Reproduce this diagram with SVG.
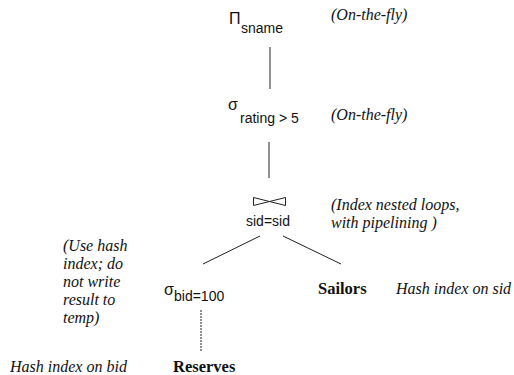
<svg xmlns="http://www.w3.org/2000/svg" width="514" height="375" viewBox="0 0 514 375">
<style>
.op{font-family:"Liberation Sans",Arial,sans-serif;font-size:14px;fill:#111}
.sym{font-family:"Liberation Sans","DejaVu Sans",sans-serif;font-size:16px;fill:#111}
.note{font-family:"Liberation Serif","Times New Roman","DejaVu Serif",serif;font-style:italic;font-size:16px;fill:#111}
.rel{font-family:"Liberation Serif","Times New Roman",serif;font-weight:bold;font-size:16.5px;fill:#111}
.edge{stroke:#222;stroke-width:1;fill:none}
.tie{stroke:#222;stroke-width:1;fill:none;stroke-linejoin:miter}
</style>
<rect width="514" height="375" fill="#fff"/>
<g id="connectors">
<line class="edge" x1="270" y1="47" x2="270" y2="89"/>
<line class="edge" x1="269" y1="142" x2="269" y2="178"/>
<line class="edge" x1="260" y1="236" x2="203" y2="264"/>
<line class="edge" x1="283" y1="236" x2="341" y2="264"/>
<line class="edge" x1="201" y1="310" x2="201" y2="351" stroke="#777" stroke-dasharray="2,1"/>
</g>
<g id="project">
<text class="sym" x="229" y="24" font-weight="300">Π</text>
<text class="op" x="241" y="33">sname</text>
<text class="note" x="331" y="20" font-size="16.5">(On-the-fly)</text>
</g>
<g id="select-rating">
<text class="sym" x="228" y="110">σ</text>
<text class="op" x="240" y="123">rating &gt; 5</text>
<text class="note" x="331" y="120" font-size="16.5">(On-the-fly)</text>
</g>
<g id="join">
<path class="tie" d="M253.5,197.5 L269.5,201.5 L253.5,205.5 Z M285.5,197.5 L269.5,201.5 L285.5,205.5 Z"/>
<text class="op" x="246" y="226">sid=sid</text>
<text class="note" x="331" y="210" font-size="16.5">(Index nested loops,</text>
<text class="note" x="331" y="228" font-size="16.5">with pipelining )</text>
</g>
<g id="select-bid">
<text class="sym" x="164" y="295">σ</text>
<text class="op" x="174" y="301">bid=100</text>
<text class="note" x="63" y="251">(Use hash</text>
<text class="note" x="63" y="269">index; do</text>
<text class="note" x="63" y="287">not write</text>
<text class="note" x="63" y="305">result to</text>
<text class="note" x="63" y="323">temp)</text>
</g>
<g id="sailors">
<text class="rel" x="318" y="294">Sailors</text>
<text class="note" x="396" y="294" font-size="16.5">Hash index on sid</text>
</g>
<g id="reserves">
<text class="rel" x="173" y="372">Reserves</text>
<text class="note" x="10" y="372" font-size="16.5">Hash index on bid</text>
</g>
</svg>
